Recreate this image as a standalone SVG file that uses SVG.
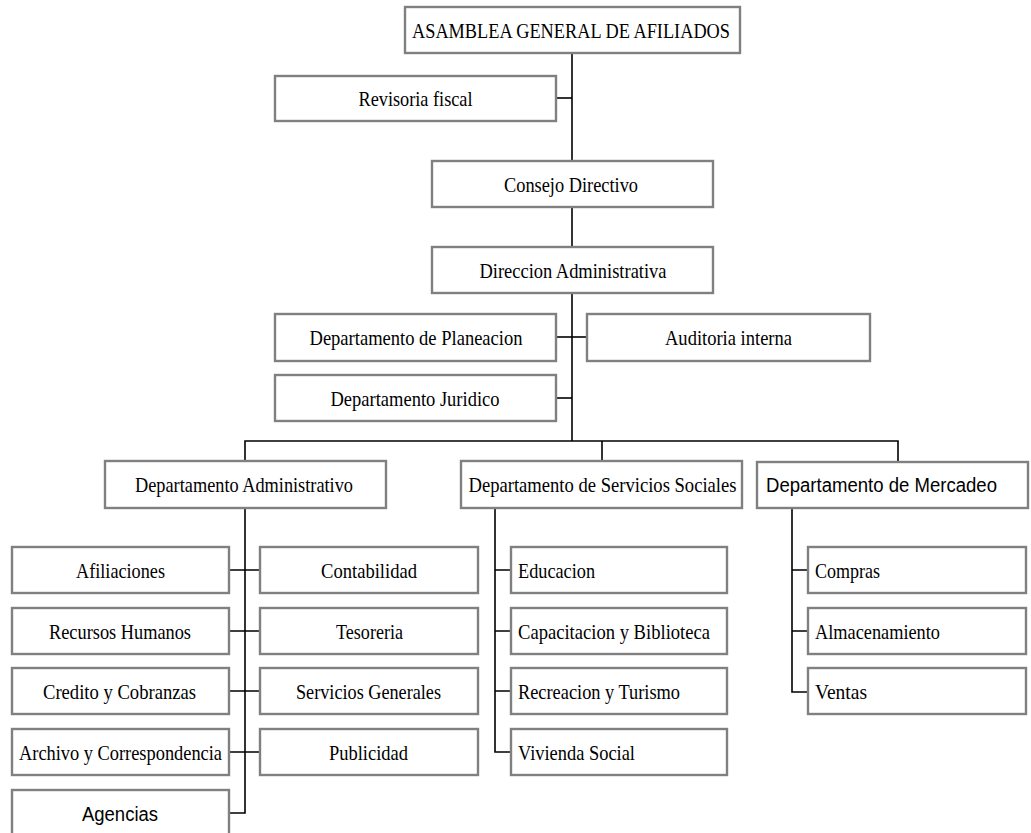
<svg xmlns="http://www.w3.org/2000/svg" width="1031" height="833" viewBox="0 0 1031 833">
<style>
.box{fill:#ffffff;stroke:#808080;stroke-width:2.4}
.ln{fill:none;stroke:#000000;stroke-width:1.6}
.t{font-family:"Liberation Serif","Times New Roman",serif;font-size:21px;fill:#000000}
.s{font-family:"Liberation Sans",Arial,sans-serif;font-size:20px;fill:#000000}
.c{text-anchor:middle}
</style>
<rect width="1031" height="833" fill="#ffffff"/>
<g id="connectors">
<path class="ln" d="M572,53 V441"/>
<path class="ln" d="M556,98 H572"/>
<path class="ln" d="M556,337 H587"/>
<path class="ln" d="M556,398 H572"/>
<path class="ln" d="M245,461 V441 H898 V462"/>
<path class="ln" d="M602,441 V461"/>
<path class="ln" d="M245,508 V813 H229"/>
<path class="ln" d="M229,570 H260 M229,631 H260 M229,691 H260 M229,752 H260"/>
<path class="ln" d="M495,508 V752 H511"/>
<path class="ln" d="M495,570 H511 M495,631 H511 M495,691 H511"/>
<path class="ln" d="M792,508 V692 H808"/>
<path class="ln" d="M792,570 H808 M792,631 H808"/>
</g>
<g id="asamblea"><rect class="box" x="405" y="7" width="335" height="46"/><text class="t c" x="571" y="38" textLength="318" lengthAdjust="spacingAndGlyphs">ASAMBLEA GENERAL DE AFILIADOS</text></g>
<g id="revisoria"><rect class="box" x="275" y="76" width="281" height="45"/><text class="t c" x="415.5" y="106" textLength="114" lengthAdjust="spacingAndGlyphs">Revisoria fiscal</text></g>
<g id="consejo"><rect class="box" x="432" y="161" width="281" height="46"/><text class="t c" x="571" y="192" textLength="134" lengthAdjust="spacingAndGlyphs">Consejo Directivo</text></g>
<g id="direccion"><rect class="box" x="432" y="247" width="281" height="46"/><text class="t c" x="573" y="278" textLength="187" lengthAdjust="spacingAndGlyphs">Direccion Administrativa</text></g>
<g id="planeacion"><rect class="box" x="275" y="314" width="281" height="47"/><text class="t c" x="416" y="345" textLength="213" lengthAdjust="spacingAndGlyphs">Departamento de Planeacion</text></g>
<g id="auditoria"><rect class="box" x="587" y="314" width="283" height="47"/><text class="t c" x="728.5" y="345" textLength="127" lengthAdjust="spacingAndGlyphs">Auditoria interna</text></g>
<g id="juridico"><rect class="box" x="275" y="375" width="281" height="46"/><text class="t c" x="415" y="406" textLength="169" lengthAdjust="spacingAndGlyphs">Departamento Juridico</text></g>
<g id="dept-admin"><rect class="box" x="105" y="461" width="281" height="47"/><text class="t c" x="244" y="492" textLength="218" lengthAdjust="spacingAndGlyphs">Departamento Administrativo</text></g>
<g id="dept-servicios"><rect class="box" x="461" y="461" width="281" height="47"/><text class="t c" x="602.5" y="492" textLength="268" lengthAdjust="spacingAndGlyphs">Departamento de Servicios Sociales</text></g>
<g id="dept-mercadeo"><rect class="box" x="757" y="462" width="271" height="46"/><text class="s" x="766" y="492" textLength="231" lengthAdjust="spacingAndGlyphs">Departamento de Mercadeo</text></g>
<g id="afiliaciones"><rect class="box" x="12" y="547" width="217" height="46"/><text class="t c" x="120.5" y="578" textLength="89" lengthAdjust="spacingAndGlyphs">Afiliaciones</text></g>
<g id="recursos"><rect class="box" x="12" y="608" width="217" height="46"/><text class="t c" x="120" y="639" textLength="142" lengthAdjust="spacingAndGlyphs">Recursos Humanos</text></g>
<g id="credito"><rect class="box" x="12" y="668" width="217" height="46"/><text class="t c" x="119.5" y="699" textLength="153" lengthAdjust="spacingAndGlyphs">Credito y Cobranzas</text></g>
<g id="archivo"><rect class="box" x="12" y="729" width="217" height="46"/><text class="t c" x="120.5" y="760" textLength="203" lengthAdjust="spacingAndGlyphs">Archivo y Correspondencia</text></g>
<g id="agencias"><rect class="box" x="12" y="790" width="217" height="46"/><text class="s c" x="120" y="821" textLength="76" lengthAdjust="spacingAndGlyphs">Agencias</text></g>
<g id="contabilidad"><rect class="box" x="260" y="547" width="218" height="46"/><text class="t c" x="369" y="578" textLength="96" lengthAdjust="spacingAndGlyphs">Contabilidad</text></g>
<g id="tesoreria"><rect class="box" x="260" y="608" width="218" height="46"/><text class="t c" x="369.5" y="639" textLength="67" lengthAdjust="spacingAndGlyphs">Tesoreria</text></g>
<g id="servicios-generales"><rect class="box" x="260" y="668" width="218" height="46"/><text class="t c" x="368.5" y="699" textLength="145" lengthAdjust="spacingAndGlyphs">Servicios Generales</text></g>
<g id="publicidad"><rect class="box" x="260" y="729" width="218" height="46"/><text class="t c" x="368.5" y="760" textLength="79" lengthAdjust="spacingAndGlyphs">Publicidad</text></g>
<g id="educacion"><rect class="box" x="511" y="547" width="216" height="46"/><text class="t" x="518" y="578" textLength="77" lengthAdjust="spacingAndGlyphs">Educacion</text></g>
<g id="capacitacion"><rect class="box" x="511" y="608" width="216" height="46"/><text class="t" x="518" y="639" textLength="192" lengthAdjust="spacingAndGlyphs">Capacitacion y Biblioteca</text></g>
<g id="recreacion"><rect class="box" x="511" y="668" width="216" height="46"/><text class="t" x="518" y="699" textLength="162" lengthAdjust="spacingAndGlyphs">Recreacion y Turismo</text></g>
<g id="vivienda"><rect class="box" x="511" y="729" width="216" height="46"/><text class="t" x="518" y="760" textLength="117" lengthAdjust="spacingAndGlyphs">Vivienda Social</text></g>
<g id="compras"><rect class="box" x="808" y="547" width="218" height="46"/><text class="t" x="815" y="578" textLength="65" lengthAdjust="spacingAndGlyphs">Compras</text></g>
<g id="almacenamiento"><rect class="box" x="808" y="608" width="218" height="46"/><text class="t" x="815" y="639" textLength="125" lengthAdjust="spacingAndGlyphs">Almacenamiento</text></g>
<g id="ventas"><rect class="box" x="808" y="668" width="218" height="46"/><text class="t" x="815" y="699" textLength="52" lengthAdjust="spacingAndGlyphs">Ventas</text></g>
</svg>
